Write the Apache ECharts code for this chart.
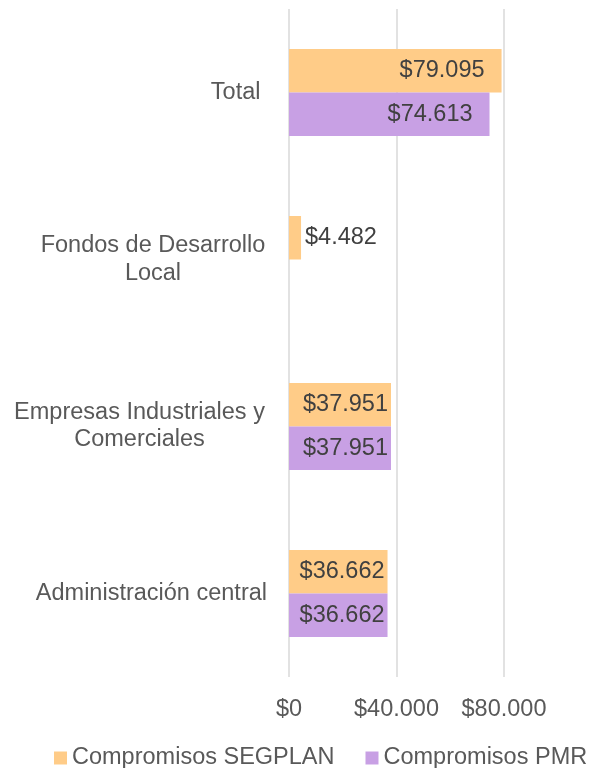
<!DOCTYPE html>
<html>
<head>
<meta charset="utf-8">
<script src="https://cdn.jsdelivr.net/npm/echarts@6/dist/echarts.min.js"></script>
<style>
html,body{margin:0;padding:0;background:#fff;}
#c{width:593px;height:768px;}
</style>
</head>
<body>
<div id="c"></div>
<script>
var categories = ['Total ', 'Fondos de Desarrollo\nLocal', 'Empresas Industriales y\nComerciales', 'Administración central'];
var segplan = [79095, 4482, 37951, 36662];
var pmr = [74613, null, 37951, 36662];
var seriesNames = ['Compromisos SEGPLAN', 'Compromisos PMR'];
var xTicks = [0, 40000, 80000];

function money(v) {
  var s = String(Math.round(v));
  return '$' + s.replace(/\B(?=(\d{3})+(?!\d))/g, '.');
}

var FONT = '"Liberation Sans", Arial, sans-serif';
var FS = 23.5;

function labelFor(v, isSmall, dist) {
  return {
    show: true,
    position: isSmall ? 'right' : 'insideRight',
    distance: dist,
    formatter: function (p) { return money(p.value); },
    color: '#404040',
    fontFamily: FONT,
    fontSize: FS
  };
}

function buildData(arr) {
  return arr.map(function (v, i) {
    if (v == null) return { value: null, label: { show: false } };
    var small = v < 10000;
    var dist = small ? 4 : (i === 0 ? 17 : 3);
    return { value: v, label: labelFor(v, small, dist) };
  });
}

var chart = echarts.init(document.getElementById('c'));
chart.setOption({
  animation: false,
  backgroundColor: '#ffffff',
  grid: { left: 289, right: 89, top: 9, bottom: 91, containLabel: false },
  legend: {
    data: seriesNames,
    left: 54,
    top: 746,
    padding: 0,
    itemGap: 31,
    itemWidth: 13,
    itemHeight: 13,
    icon: 'rect',
    textStyle: { color: '#595959', fontFamily: FONT, fontSize: FS }
  },
  xAxis: {
    type: 'value',
    min: xTicks[0],
    max: xTicks[xTicks.length - 1],
    interval: xTicks[1] - xTicks[0],
    axisLine: { show: false },
    axisTick: { show: false },
    splitLine: { show: true, lineStyle: { color: '#d9d9d9', width: 1.5 } },
    axisLabel: {
      margin: 21,
      color: '#595959',
      fontFamily: FONT,
      fontSize: FS,
      formatter: function (v) { return money(v); }
    }
  },
  yAxis: {
    type: 'category',
    inverse: true,
    data: categories,
    axisLine: { show: false },
    axisTick: { show: false },
    axisLabel: {
      margin: 22,
      color: '#595959',
      fontFamily: FONT,
      fontSize: FS,
      lineHeight: 27,
      formatter: function (v) {
        if (v.indexOf('\n') < 0) return v;
        var key = v.indexOf('Fondos') === 0 ? 'f' : 'e';
        return v.split('\n').map(function (l) { return '{' + key + '|' + l + '}'; }).join('\n');
      },
      rich: {
        f: { width: 228, align: 'center', color: '#595959', fontFamily: FONT, fontSize: FS, lineHeight: 28 },
        e: { width: 255, align: 'center', color: '#595959', fontFamily: FONT, fontSize: FS, lineHeight: 27 }
      }
    }
  },
  series: [
    {
      name: seriesNames[0],
      type: 'bar',
      barWidth: 43.5,
      barGap: '0%',
      itemStyle: { color: '#FFCC88' },
      data: buildData(segplan)
    },
    {
      name: seriesNames[1],
      type: 'bar',
      barWidth: 43.5,
      barGap: '0%',
      itemStyle: { color: '#C8A0E4' },
      data: buildData(pmr)
    }
  ]
});
</script>
</body>
</html>
